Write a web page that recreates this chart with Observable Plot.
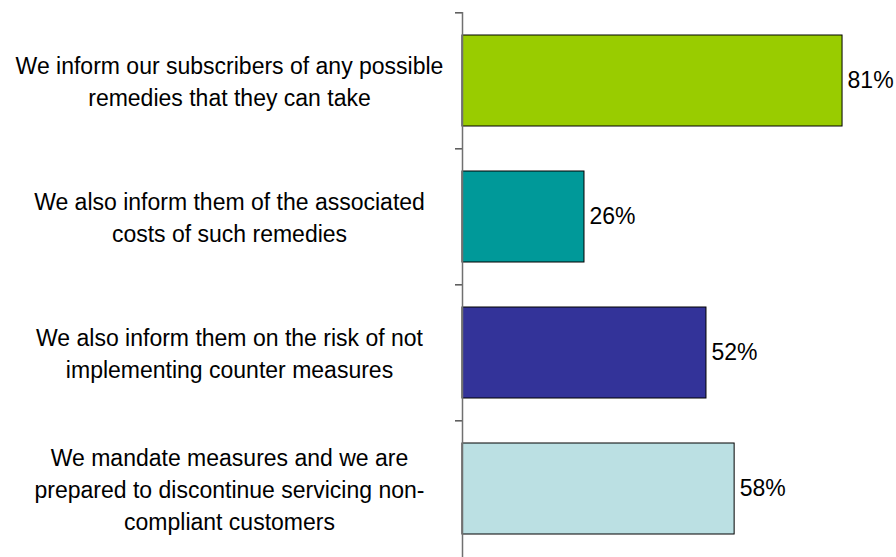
<!DOCTYPE html>
<html>
<head>
<meta charset="utf-8">
<script src="https://cdn.jsdelivr.net/npm/d3@7"></script>
<script src="https://cdn.jsdelivr.net/npm/@observablehq/plot@0.6"></script>
<style>
  html, body { margin: 0; padding: 0; background: #fff; }
  #chart svg { display: block; font-family: "Liberation Sans", Arial, sans-serif; }
</style>
</head>
<body>
<div id="chart"></div>
<script>
const categories = ["remedies", "costs", "risk", "mandate"];
const labels = [
  "We inform our subscribers of any possible\nremedies that they can take",
  "We also inform them of the associated\ncosts of such remedies",
  "We also inform them on the risk of not\nimplementing counter measures",
  "We mandate measures and we are\nprepared to discontinue servicing non-\ncompliant customers"
];
const values = [81, 26, 52, 58];
const colors = ["#99CC00", "#009999", "#333399", "#BBE0E3"];

const data = categories.map((c, i) => ({cat: c, label: labels[i], value: values[i], color: colors[i]}));

const W = 896, H = 557, mTop = 12, mBottom = 0;
const step = (H - mTop - mBottom) / categories.length;

const chart = Plot.plot({
  width: W,
  height: H,
  marginTop: mTop,
  marginBottom: mBottom,
  marginLeft: 462,
  marginRight: 0,
  style: {fontFamily: "Liberation Sans, Arial, sans-serif", fontSize: "23px", color: "#000", background: "#fff"},
  x: {domain: [0, 92.5], axis: null},
  y: {domain: categories, paddingInner: 0.33, paddingOuter: 0.165, axis: null},
  marks: [
    Plot.barX(data, {y: "cat", x: "value", fill: "color", stroke: "#000", strokeWidth: 1}),
    Plot.axisY({ticks: categories, tickSize: 7, tickFormat: () => "", label: null, dy: -step / 2, stroke: "#000"}),
    Plot.ruleX([0], {stroke: "#707070", strokeWidth: 1.5}),
    Plot.text(data, {y: "cat", x: 0, text: "label", dx: -233, dy: -1, textAnchor: "middle", lineHeight: 1.38, fontSize: 23, fill: "#000"}),
    Plot.text(data, {y: "cat", x: "value", text: d => d.value + "%", dx: 5, textAnchor: "start", fontSize: 23, fill: "#000"})
  ]
});
document.getElementById("chart").appendChild(chart);
</script>
</body>
</html>
